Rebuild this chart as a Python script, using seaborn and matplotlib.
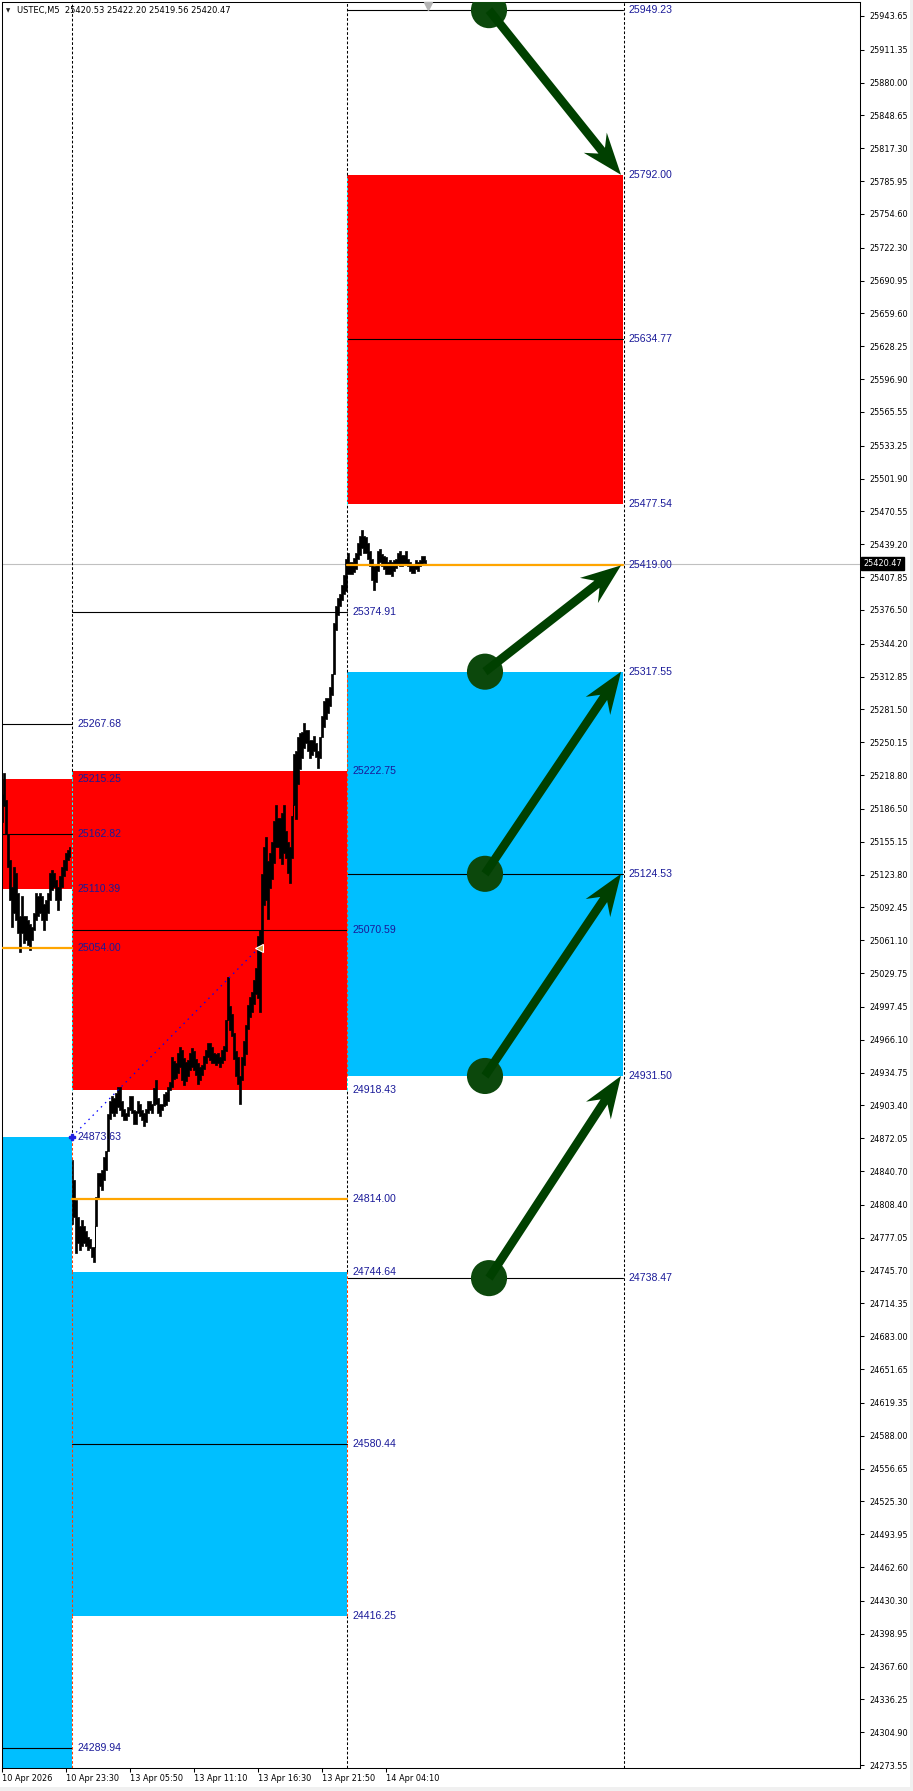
import numpy as np
import pandas as pd
import matplotlib.pyplot as plt
import matplotlib.transforms as mtransforms
from matplotlib.patches import Rectangle, FancyArrow
import seaborn as sns

# ---------------- data ----------------
symbol = 'USTEC,M5'
quote = ['25420.53', '25422.20', '25419.56', '25420.47']
last_price = 25420.47

# price bars (high / low), one sample every 2 bars
seg1_start = 2
seg1_hi = [25201, 25221, 25195, 25163, 25138, 25112, 25131, 25125, 25106, 25084,
           25103, 25084, 25084, 25080, 25077, 25074, 25087, 25106, 25103, 25106,
           25103, 25096, 25100, 25106, 25125, 25128, 25125, 25119, 25112, 25122,
           25131, 25138, 25144, 25147, 25150]
seg1_lo = [25174, 25189, 25163, 25131, 25100, 25074, 25087, 25080, 25068, 25050,
           25068, 25058, 25061, 25057, 25052, 25061, 25071, 25080, 25084, 25087,
           25080, 25071, 25080, 25087, 25100, 25109, 25112, 25100, 25090, 25100,
           25112, 25122, 25128, 25138, 25141]

seg2_start = 72
seg2_hi = [24851, 24832, 24813, 24797, 24788, 24794, 24788, 24783, 24778, 24776,
           24768, 24768, 24816, 24839, 24839, 24842, 24854, 24860, 24895, 24908,
           24912, 24910, 24915, 24921, 24921, 24908, 24900, 24896, 24902, 24912,
           24912, 24899, 24898, 24908, 24905, 24899, 24896, 24900, 24908, 24908,
           24905, 24920, 24928, 24910, 24905, 24905, 24914, 24916, 24921, 24926,
           24950, 24946, 24944, 24953, 24959, 24956, 24949, 24945, 24947, 24953,
           24958, 24955, 24948, 24944, 24940, 24942, 24951, 24956, 24963, 24963,
           24959, 24953, 24952, 24953, 24950, 24956, 24960, 24985, 25026, 24998,
           24991, 24973, 24955, 24950, 24931, 24950, 24965, 24980, 24999, 25007,
           25012, 25023, 25035, 25065, 25071, 25124, 25150, 25160, 25137, 25144,
           25155, 25175, 25190, 25178, 25178, 25183, 25190, 25165, 25155, 25150,
           25180, 25239, 25242, 25255, 25259, 25260, 25269, 25262, 25262, 25252,
           25252, 25256, 25249, 25242, 25255, 25275, 25290, 25292, 25292, 25303,
           25315, 25364, 25380, 25388, 25392, 25400, 25410, 25425, 25431, 25422,
           25422, 25426, 25431, 25440, 25447, 25453, 25447, 25446, 25440, 25433,
           25425, 25418, 25420, 25433, 25435, 25430, 25428, 25427, 25422, 25424,
           25422, 25424, 25425, 25431, 25433, 25429, 25429, 25433, 25425, 25422,
           25420, 25420, 25424, 25422, 25424, 25428, 25428, 25424]
seg2_lo = [24790, 24797, 24762, 24772, 24765, 24769, 24772, 24769, 24765, 24767,
           24759, 24754, 24788, 24815, 24826, 24823, 24832, 24842, 24860, 24890,
           24896, 24893, 24896, 24902, 24899, 24893, 24889, 24889, 24893, 24899,
           24896, 24886, 24886, 24896, 24893, 24889, 24884, 24888, 24896, 24899,
           24896, 24904, 24905, 24896, 24893, 24899, 24903, 24904, 24908, 24918,
           24921, 24929, 24930, 24934, 24940, 24928, 24923, 24927, 24931, 24937,
           24940, 24937, 24932, 24924, 24928, 24932, 24938, 24944, 24950, 24947,
           24944, 24944, 24942, 24944, 24940, 24944, 24947, 24955, 24985, 24975,
           24970, 24948, 24931, 24924, 24905, 24928, 24942, 24952, 24976, 24988,
           24993, 25000, 25010, 25006, 24993, 25058, 25095, 25100, 25081, 25111,
           25120, 25135, 25150, 25150, 25140, 25134, 25144, 25140, 25125, 25116,
           25140, 25190, 25177, 25210, 25225, 25235, 25245, 25249, 25242, 25235,
           25238, 25242, 25236, 25226, 25235, 25255, 25265, 25272, 25278, 25285,
           25295, 25315, 25357, 25372, 25380, 25386, 25392, 25395, 25411, 25411,
           25411, 25413, 25416, 25425, 25429, 25436, 25431, 25431, 25425, 25418,
           25405, 25396, 25403, 25414, 25422, 25418, 25416, 25411, 25411, 25411,
           25409, 25414, 25417, 25420, 25418, 25418, 25419, 25420, 25418, 25414,
           25412, 25412, 25416, 25414, 25418, 25420, 25421, 25420]

# zones (left / middle / right)
zone_edges = [-60, 72, 347, 623]
sep_x = [72, 347, 624]
red_top = [25215.25, 25222.75, 25792.00]
red_bot = [25110.39, 24918.43, 25477.54]
red_mid = [25162.82, 25070.59, 25634.77]
blue_top = [24873.63, 24744.64, 25317.55]
blue_bot = [23706.25, 24416.25, 24931.50]
blue_mid = [24289.94, 24580.44, 25124.53]
orange_lvl = [25054.00, 24814.00, 25419.00]
black_lvl = [[25267.68], [25374.91], [25949.23, 24738.47]]

# projection arrows
arrow_x0 = [489, 485, 485, 485, 489]
arrow_x1 = [621, 621, 621, 621, 621]
arrow_from = [25949.23, 25317.55, 25124.53, 24931.50, 24738.47]
arrow_to = [25792.00, 25419.00, 25317.55, 25124.53, 24931.50]

# trend line
trend_x = [72, 259]
trend_y = [24873.63, 25054.00]

# axes
time_pos = [2, 66, 130, 194, 258, 322, 386]
time_lbl = ['10 Apr 2026', '10 Apr 23:30', '13 Apr 05:50', '13 Apr 11:10',
            '13 Apr 16:30', '13 Apr 21:50', '14 Apr 04:10']
price_ticks = [25943.65, 25911.35, 25880.00, 25848.65, 25817.30, 25785.95, 25754.60,
               25722.30, 25690.95, 25659.60, 25628.25, 25596.90, 25565.55, 25533.25,
               25501.90, 25470.55, 25439.20, 25407.85, 25376.50, 25344.20, 25312.85,
               25281.50, 25250.15, 25218.80, 25186.50, 25155.15, 25123.80, 25092.45,
               25061.10, 25029.75, 24997.45, 24966.10, 24934.75, 24903.40, 24872.05,
               24840.70, 24808.40, 24777.05, 24745.70, 24714.35, 24683.00, 24651.65,
               24619.35, 24588.00, 24556.65, 24525.30, 24493.95, 24462.60, 24430.30,
               24398.95, 24367.60, 24336.25, 24304.90, 24273.55]
y_min, y_max = 24270.7, 25957.0

RED = '#ff0000'
BLUE = '#00bfff'
ORANGE = '#ffa500'
LBL = '#1a1a99'
GREEN = '#004000'

# ---------------- figure ----------------
sns.set_style('ticks')
plt.rcParams['font.family'] = ['DejaVu Sans']

W, H = 913, 1791
fig = plt.figure(figsize=(W / 100, H / 100), dpi=100)
ax = fig.add_axes([2 / W, 23 / H, 858 / W, 1766 / H])
ax.set_xlim(2, 860)
ax.set_ylim(y_min, y_max)

# current price line
ax.axhline(last_price, color='#c0c0c0', lw=0.8, zorder=1.2)

# zones
for i in range(3):
    x0, x1 = zone_edges[i], zone_edges[i + 1]
    ax.add_patch(Rectangle((x0, red_bot[i]), x1 - x0, red_top[i] - red_bot[i],
                           facecolor=RED, edgecolor='none', zorder=1))
    ax.add_patch(Rectangle((x0, blue_bot[i]), x1 - x0, blue_top[i] - blue_bot[i],
                           facecolor=BLUE, edgecolor='none', zorder=1))
    for lv in [red_mid[i], blue_mid[i]] + black_lvl[i]:
        ax.plot([x0, x1], [lv, lv], color='black', lw=0.8, zorder=2)
    ax.plot([x0, x1], [orange_lvl[i]] * 2, color=ORANGE, lw=1.6, zorder=4)
    levels = [red_top[i], red_mid[i], red_bot[i], blue_top[i], blue_mid[i],
              blue_bot[i], orange_lvl[i]] + black_lvl[i]
    for lv in levels:
        if y_min < lv < y_max:
            ax.text(x1 + 5, lv, f'{lv:.2f}', color=LBL, fontsize=7.6,
                    family='Liberation Sans', ha='left', va='center', zorder=6)

# separators, inverted colour over the boxes
dash = (0, (2.6, 1.9))
for sx in sep_x:
    cover = []
    for i in range(3):
        if zone_edges[i] <= sx <= zone_edges[i + 1]:
            cover.append((red_bot[i], red_top[i], 'red'))
            cover.append((blue_bot[i], blue_top[i], 'blue'))
    cuts = sorted({y_min, y_max} | {v for a, b, _ in cover for v in (a, b)
                                      if y_min < v < y_max})
    for a, b in zip(cuts[:-1], cuts[1:]):
        m = (a + b) / 2
        kinds = [k for lo, hi, k in cover if lo <= m <= hi]
        c = '#ff4000' if 'blue' in kinds else ('#00ffff' if 'red' in kinds else 'black')
        ax.plot([sx, sx], [a, b], color=c, lw=0.75, ls=dash, zorder=2.5)

# price bars
x1 = seg1_start + 2 * np.arange(len(seg1_hi))
x2 = seg2_start + 2 * np.arange(len(seg2_hi))
for xs, lo, hi in [(x1, seg1_lo, seg1_hi), (x2, seg2_lo, seg2_hi)]:
    ax.fill_between(xs, lo, hi, step='mid', color='black', lw=0.5, zorder=3)

# trend line with its end markers
trend = pd.DataFrame({'x': trend_x, 'y': trend_y})
sns.lineplot(data=trend, x='x', y='y', ax=ax, color='#0000ff', lw=0.9,
             linestyle=(0, (1.2, 3.5)), zorder=3.5)
ax.plot(trend_x[0], trend_y[0], marker='P', ms=5, color='#2020e0', zorder=5)
ax.plot(trend_x[1], trend_y[1], marker='<', ms=6, mfc='#d4a040', mec='white',
        mew=0.8, zorder=5)

# arrows
circ = pd.DataFrame({'x': arrow_x0, 'y': arrow_from})
sns.scatterplot(data=circ, x='x', y='y', ax=ax, s=26 ** 2, color='#0c480c',
                edgecolor='none', zorder=7, legend=False)
for xa, xb, ya, yb in zip(arrow_x0, arrow_x1, arrow_from, arrow_to):
    ax.add_patch(FancyArrow(xa, ya, xb - xa, yb - ya, width=8.5, head_width=30,
                            head_length=40, overhang=0.25, length_includes_head=True,
                            color=GREEN, lw=0, zorder=8))

# chart shift marker
shift_tr = mtransforms.blended_transform_factory(ax.transData, ax.transAxes)
ax.plot(x2[-1] + 2, 0.998, marker='v', ms=6, color='#b4b4b4', transform=shift_tr,
        clip_on=False, zorder=9)

# axes styling
ax.set_xlabel('')
ax.set_ylabel('')
ax.yaxis.tick_right()
ax.set_yticks(price_ticks)
ax.set_yticklabels([f'{v:.2f}' for v in price_ticks])
ax.set_xticks(time_pos)
ax.set_xticklabels(time_lbl)
for t in ax.get_xticklabels():
    t.set_ha('left')
ax.tick_params(axis='y', direction='out', length=3, width=0.75, pad=4,
               labelsize=5.9, colors='black')
ax.tick_params(axis='x', direction='out', length=3, width=0.75, pad=1.5,
               labelsize=5.9, colors='black')
for s in ax.spines.values():
    s.set_color('black')
    s.set_linewidth(0.75)

# current price tag
tag_tr = mtransforms.blended_transform_factory(ax.transAxes, ax.transData)
ax.text(1 + 3 / 858, last_price, f'{last_price:.2f}', transform=tag_tr,
        ha='left', va='center', fontsize=5.9, color='white', zorder=10,
        bbox=dict(boxstyle='square,pad=0.25', fc='black', ec='black'), clip_on=False)

# header
fig.text(6 / W, 1 - 11 / H, '\u25bc', fontsize=4, va='center', ha='left')
fig.text(17 / W, 1 - 11 / H, symbol + '  ' + ' '.join(quote), fontsize=6,
         va='center', ha='left', color='black')

# window edges
fig.add_artist(Rectangle((0, 0), 1, 4 / H, transform=fig.transFigure,
                         facecolor='#f0f0f0', edgecolor='none'))
fig.add_artist(Rectangle((1 - 3 / W, 0), 3 / W, 1, transform=fig.transFigure,
                         facecolor='#f0f0f0', edgecolor='none'))

fig.savefig('out.png', dpi=100)
